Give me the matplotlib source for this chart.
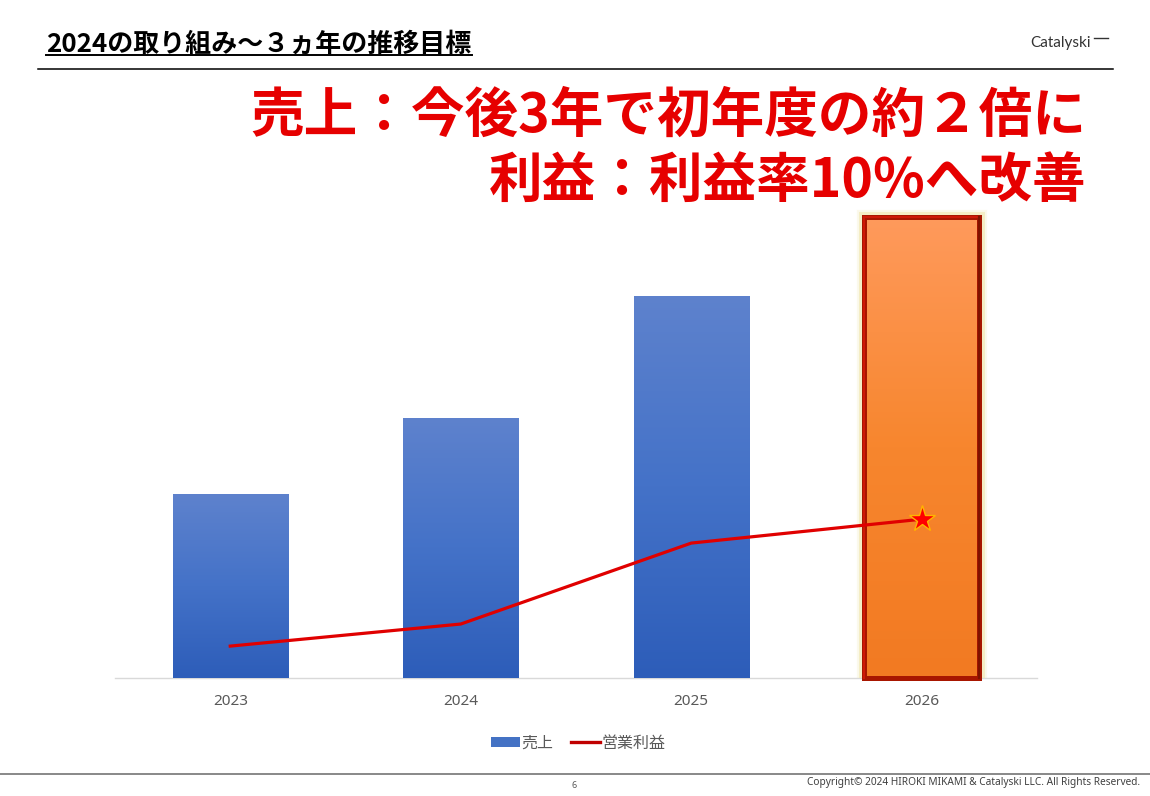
import numpy as np
import matplotlib
matplotlib.use('Agg')
import matplotlib.pyplot as plt
from matplotlib.colors import LinearSegmentedColormap
from matplotlib.lines import Line2D
from matplotlib.patches import Patch, Rectangle

# ---------------- data ----------------
years = ['2023', '2024', '2025', '2026']
sales = [100, 141.5, 208, 251]
op_profit = [17.5, 29.5, 73.5, 86.5]
legend_labels = ['売上', '営業利益']
title_text = '2024の取り組み～３ヵ年の推移目標'
headline_1 = '売上：今後3年で初年度の約２倍に'
headline_2 = '利益：利益率10%へ改善'
logo_text = 'Catalyski'
page_no = '6'
copyright_text = 'Copyright© 2024 HIROKI MIKAMI & Catalyski LLC. All Rights Reserved.'

# ---------------- setup ----------------
W, H = 1150, 796
CJK = ['Noto Sans CJK JP', 'DejaVu Sans']
plt.rcParams['font.family'] = CJK

fig = plt.figure(figsize=(W / 100, H / 100), dpi=100)
fig.patch.set_facecolor('white')


def fx(px):
    return px / W


def fy(py):
    return 1 - py / H


# ---------------- header ----------------
fig.text(fx(46), fy(52), title_text, ha='left', va='baseline',
         fontsize=18.7, fontweight='bold', color='#000000')
fig.add_artist(Line2D([fx(46), fx(472)], [fy(55), fy(55)],
                      transform=fig.transFigure, color='#000000', lw=1.4))
fig.add_artist(Line2D([fx(38), fx(1113)], [fy(68.5), fy(68.5)],
                      transform=fig.transFigure, color='#000000', lw=1.1))
fig.text(fx(1030), fy(43), logo_text, ha='left', va='center',
         fontsize=11, color='#333333', family=['Lato', 'DejaVu Sans'])
fig.add_artist(Line2D([fx(1094), fx(1108)], [fy(37.5), fy(37.5)],
                      transform=fig.transFigure, color='#333333', lw=1.0))

# headlines
fig.text(fx(1086), fy(116), headline_1, ha='right', va='center',
         fontsize=38.6, fontweight='bold', color='#E60000')
fig.text(fx(1086), fy(181), headline_2, ha='right', va='center',
         fontsize=38.6, fontweight='bold', color='#E60000')

# ---------------- chart ----------------
ax = fig.add_axes([fx(115), fy(678.3), fx(1037) - fx(115), fy(200) - fy(678.3)])
xpos = np.arange(len(years))
bars = ax.bar(xpos, sales, width=0.5, color='#3F6CC6', zorder=2, linewidth=0)

blue_cmap = LinearSegmentedColormap.from_list('blue', ['#2D5DB9', '#4472C8', '#5E82CD'])
orange_cmap = LinearSegmentedColormap.from_list('orange', ['#F27A22', '#F7862E', '#FF9A5C'])
grad = np.linspace(0, 1, 256).reshape(-1, 1)

for i, b in enumerate(bars):
    x0, w, h = b.get_x(), b.get_width(), b.get_height()
    cmap = orange_cmap if i == len(bars) - 1 else blue_cmap
    im = ax.imshow(grad, extent=(x0, x0 + w, 0, h), origin='lower', cmap=cmap,
                   aspect='auto', zorder=2.1, interpolation='bilinear')
    im.set_clip_path(b)
    if i == len(bars) - 1:
        # soft yellow glow
        for lw, a in [(11, 0.2), (8, 0.5)]:
            ax.add_patch(Rectangle((x0, 0), w, h, fill=False, ec='#EFE3A0',
                                   lw=lw, alpha=a, zorder=1.9, joinstyle='miter'))
        # dark red bevelled border
        ax.add_patch(Rectangle((x0, 0), w, h, fill=False, ec='#A81600',
                               lw=3.6, zorder=2.5, clip_on=False, joinstyle='miter'))
        ax.plot([x0, x0, x0 + w], [0, h, h], color='#D01A08', lw=1.4,
                zorder=2.6, clip_on=False, solid_joinstyle='miter')
        ax.plot([x0 + w, x0 + w], [0, h], color='#7E1200', lw=1.6,
                zorder=2.6, clip_on=False)

ax.plot(xpos, op_profit, color='#E00000', lw=2.3, zorder=3,
        marker='*', markevery=[len(years) - 1], ms=20,
        mfc='#FF0000', mec='#FFB400', mew=1.0, clip_on=False)

ax.set_xlim(-0.5, len(years) - 0.5)
ax.set_ylim(0, 260)
ax.set_yticks([])
ax.set_xticks(xpos)
ax.set_xticklabels(years, fontsize=11, color='#595959', family=['Noto Sans', 'DejaVu Sans'])
ax.tick_params(axis='x', length=0, pad=11)
for side in ['top', 'left', 'right']:
    ax.spines[side].set_visible(False)
ax.spines['bottom'].set_color('#D9D9D9')
ax.spines['bottom'].set_linewidth(1.0)
ax.spines['bottom'].set_zorder(1)
ax.set_facecolor('none')

# legend
handles = [Patch(facecolor='#4472C4', edgecolor='none'),
           Line2D([], [], color='#C00000', lw=2.4)]
fig.legend(handles, legend_labels, loc='center', bbox_to_anchor=(fx(578), fy(743)),
           ncol=2, frameon=False, fontsize=11.5, handlelength=1.8, handleheight=0.55,
           handletextpad=0.1, columnspacing=1.1, labelcolor='#595959')

# ---------------- footer ----------------
fig.add_artist(Line2D([0, 1], [fy(774), fy(774)], transform=fig.transFigure,
                      color='#7F7F7F', lw=1.3))
fig.text(fx(574), fy(786), page_no, ha='center', va='center', fontsize=6.5,
         color='#595959', family=['Noto Sans', 'DejaVu Sans'])
fig.text(fx(1140), fy(783), copyright_text, ha='right', va='center', fontsize=7.3,
         color='#404040', family=['Noto Sans', 'DejaVu Sans'])

fig.savefig('out.png', dpi=100, facecolor='white')
